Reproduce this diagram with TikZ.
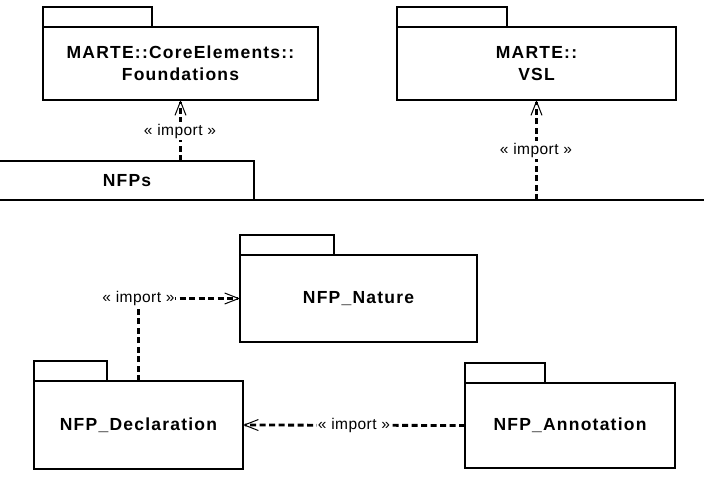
\documentclass[tikz,border=0pt]{standalone}
\usepackage{fontspec}
\setmainfont{Liberation Sans}
\newfontfamily\boxfont[LetterSpace=7]{Liberation Sans}
\newfontfamily\labfont[LetterSpace=3]{Liberation Sans}
\usetikzlibrary{arrows.meta}
\begin{document}
\begin{tikzpicture}[x=1pt,y=-1pt,
  pkg/.style={draw=black, line width=1.3pt, rectangle, inner sep=0pt, outer sep=0pt, anchor=north west,
    align=center, font=\boxfont\bfseries\fontsize{17.5}{22}\selectfont},
  tab/.style={draw=black, line width=1.1pt},
  imp/.style={line width=2.8pt, dash pattern=on 6pt off 3.5pt,
    -{Straight Barb[length=14pt,width=11pt,line width=1pt]}},
  implab/.style={fill=white, inner xsep=0.5pt, inner ysep=1.5pt, font=\labfont\fontsize{15.5}{18}\selectfont}]
\useasboundingbox (0,0) rectangle (704,495);

% top packages
\node[pkg, minimum width=275pt, minimum height=73pt] (found) at (43,27)
  {MARTE::CoreElements::\\Foundations};
\draw[tab] (found.north west) rectangle ++(109,-20);
\node[pkg, minimum width=279pt, minimum height=73pt] (vsl) at (397,27)
  {MARTE::\\VSL};
\draw[tab] (vsl.north west) rectangle ++(110,-20);

% NFPs package (tab and top edge of body)
\node[inner sep=0pt, outer sep=0pt, anchor=north west, minimum width=254pt, minimum height=39pt,
  font=\boxfont\bfseries\fontsize{17.5}{22}\selectfont] (nfpstab) at (0,161) {NFPs};
\coordinate (bodyL) at (0,200);
\coordinate (bodyR) at (704,200);
\draw[tab] (nfpstab.north west) -- (nfpstab.north east) -- (nfpstab.south east);
\draw[line width=1.3pt] (bodyL) -- (bodyR);

% inner packages
\node[pkg, minimum width=237pt, minimum height=87pt] (nature) at (240,255) {NFP\_Nature};
\draw[tab] (nature.north west) rectangle ++(94,-20);
\node[pkg, minimum width=209pt, minimum height=88pt] (decl) at (34,381) {NFP\_Declaration};
\draw[tab] (decl.north west) rectangle ++(73,-20);
\node[pkg, minimum width=210pt, minimum height=85pt] (annot) at (465,383) {NFP\_Annotation};
\draw[tab] (annot.north west) rectangle ++(80,-20);

% imports
\draw[imp] (nfpstab.north -| found.south) -- (found.south);
\node[implab] at (180,131) {« import »};
\draw[imp] (vsl.south |- bodyL) -- (vsl.south);
\node[implab] at (536,150) {« import »};
\draw[imp] (decl.north) |- (nature.west);
\node[implab] at (decl.north |- nature.west) {« import »};
\draw[imp] (annot.west) -- node[implab] {« import »} (decl.east);
\end{tikzpicture}
\end{document}
